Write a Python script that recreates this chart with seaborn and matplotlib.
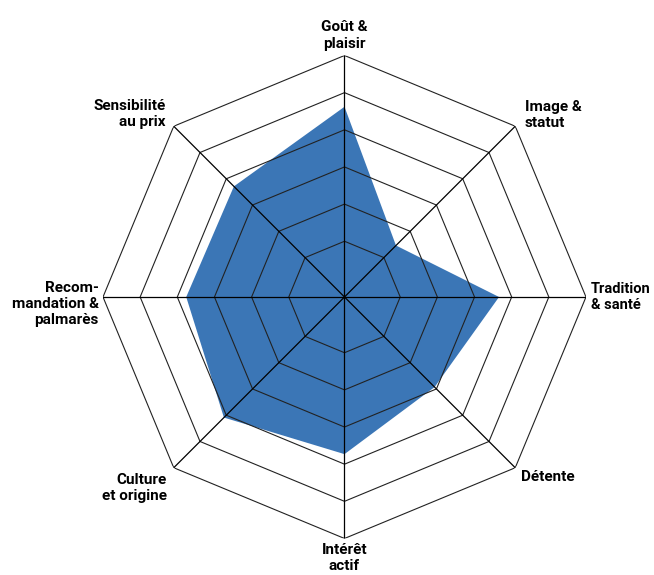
import numpy as np
import matplotlib
matplotlib.use("Agg")
import matplotlib.pyplot as plt
import seaborn as sns

categories = ["Goût &\nplaisir", "Image &\nstatut", "Tradition\n& santé", "Détente",
              "Intérêt\nactif", "Culture\net origine", "Recom-\nmandation &\npalmarès",
              "Sensibilité\nau prix"]
values = [4.62, 1.46, 3.66, 2.93, 3.73, 4.09, 3.76, 3.71]
ring_levels = [1, 2, 3, 4, 5, 6]

sns.set_theme(style="white")
plt.rcParams['font.family'] = ['Roboto', 'DejaVu Sans']

fig = plt.figure(figsize=(6.54, 5.75), dpi=100)
ax = fig.add_axes([0.1575, 0.0635, 0.7385, 0.84], projection='polar')
ax.set_theta_zero_location('N')
ax.set_theta_direction(-1)
ax.set_ylim(-0.5, 6)
ax.grid(False)
ax.spines['polar'].set_visible(False)
ax.set_xticks([])
ax.set_yticks([])
ax.patch.set_alpha(0)

n = len(categories)
theta = np.arange(n) * 2 * np.pi / n
th_closed = np.append(theta, theta[0])

# data polygon
vals_closed = np.append(values, values[0])
ax.fill(th_closed, vals_closed, color='#3b76b6', lw=0, zorder=1)

# octagonal rings
for lvl in ring_levels:
    ax.plot(th_closed, [lvl] * (n + 1), color='#222222', lw=0.8, zorder=2)
# spokes
for t in theta:
    ax.plot([t, t], [-0.5, 6], color='black', lw=0.9, zorder=3)

# labels (offsets in points relative to outer vertex)
label_pos = [
    ((0, 3.5), 'center', 'bottom', 11),
    ((7, 8), 'left', 'center', 11),
    ((3.5, 0), 'left', 'center', 10.5),
    ((4, -7), 'left', 'center', 11),
    ((0, -3), 'center', 'top', 11),
    ((-5, -14.5), 'right', 'center', 11),
    ((-3, -5), 'right', 'center', 11),
    ((-6, 8.6), 'right', 'center', 11),
]
for t, lab, (off, ha, va, fs) in zip(theta, categories, label_pos):
    ax.annotate(lab, xy=(t, 6), xytext=off, textcoords='offset points',
                ha=ha, va=va, ma=ha if ha != 'center' else 'center',
                fontsize=fs, fontweight='bold', color='black',
                linespacing=1.2, annotation_clip=False)

fig.savefig('out.png', dpi=100)
